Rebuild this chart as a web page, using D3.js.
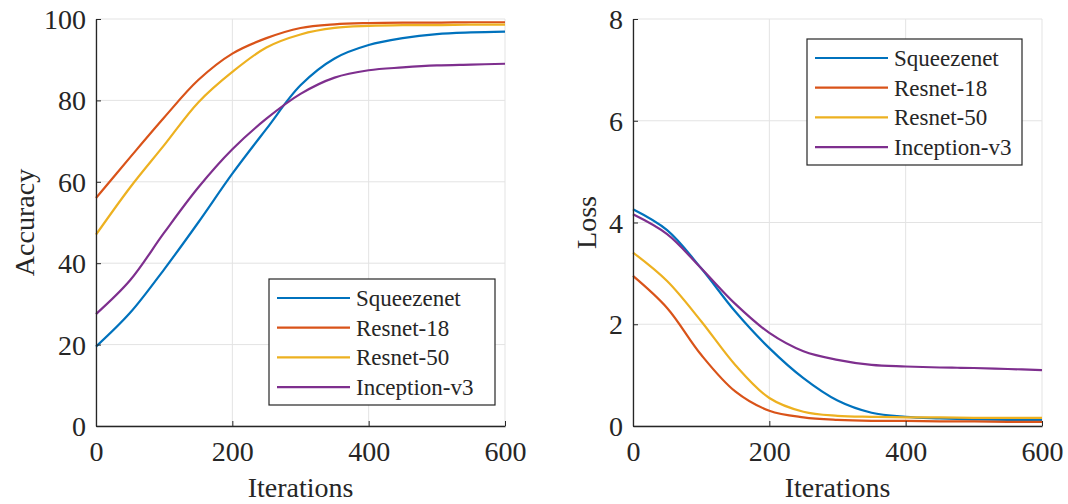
<!DOCTYPE html>
<html>
<head>
<meta charset="utf-8">
<script src="https://cdn.jsdelivr.net/npm/d3@7"></script>
<style>
  body { margin: 0; background: #fff; }
  svg text { font-family: "Liberation Serif", "Times New Roman", serif; fill: #262626; }
</style>
</head>
<body>
<svg id="canvas" width="1068" height="504"></svg>
<script>
// iterations sampled every 50
const iterations = [0, 50, 100, 150, 200, 250, 300, 350, 400, 450, 500, 550, 600];
const models = ['Squeezenet', 'Resnet-18', 'Resnet-50', 'Inception-v3'];
const colors = ['#0072BD', '#D95319', '#EDB120', '#7E2F8E'];

// accuracy (%)
const accSqueezenet = [19.5, 27.8, 38.5, 50, 62, 73, 83.7, 90.3, 93.6, 95.3, 96.3, 96.7, 96.9];
const accResnet18   = [56, 66, 75.8, 85, 91.5, 95.3, 97.8, 98.7, 99, 99.1, 99.1, 99.2, 99.2];
const accResnet50   = [47, 58.6, 69, 79.5, 87, 93, 96.2, 97.8, 98.3, 98.5, 98.5, 98.6, 98.6];
const accInception  = [27.5, 35.8, 47.5, 58.6, 68, 75.5, 81.6, 85.6, 87.4, 88.1, 88.6, 88.8, 89];

// loss
const lossSqueezenet = [4.26, 3.85, 3.1, 2.25, 1.53, 0.94, 0.5, 0.26, 0.18, 0.15, 0.13, 0.12, 0.12];
const lossResnet18   = [2.95, 2.32, 1.4, 0.68, 0.3, 0.17, 0.12, 0.1, 0.1, 0.09, 0.09, 0.08, 0.08];
const lossResnet50   = [3.41, 2.85, 2.06, 1.2, 0.55, 0.28, 0.2, 0.18, 0.17, 0.17, 0.16, 0.16, 0.16];
const lossInception  = [4.16, 3.77, 3.1, 2.4, 1.83, 1.47, 1.3, 1.2, 1.17, 1.15, 1.14, 1.12, 1.1];

const xTicks = [0, 200, 400, 600];
const accTicks = [0, 20, 40, 60, 80, 100];
const lossTicks = [0, 2, 4, 6, 8];

let canvas = d3.select('#canvas');

const drawPanel = (opts) => {
  let x = d3.scaleLinear().domain([0, 600]).range([opts.left, opts.right]);
  let y = d3.scaleLinear().domain(opts.yDomain).range([opts.bottom, opts.top]);
  let g = canvas.append('g');

  // grid
  g.selectAll('.gx').data(xTicks).enter().append('line')
    .attr('x1', d => x(d)).attr('x2', d => x(d))
    .attr('y1', opts.top).attr('y2', opts.bottom)
    .attr('stroke', '#e3e3e3').attr('stroke-width', 1);
  g.selectAll('.gy').data(opts.yTicks).enter().append('line')
    .attr('x1', opts.left).attr('x2', opts.right)
    .attr('y1', d => y(d)).attr('y2', d => y(d))
    .attr('stroke', '#e3e3e3').attr('stroke-width', 1);

  // series
  let line = d3.line()
    .x((d, i) => x(iterations[i]))
    .y(d => y(d))
    .curve(d3.curveCatmullRom.alpha(0.5));
  opts.series.forEach((s, i) => {
    g.append('path')
      .attr('d', line(s))
      .attr('fill', 'none')
      .attr('stroke', colors[i])
      .attr('stroke-width', 2.2);
  });

  // axes (ticks pointing inward)
  let xAxis = d3.axisBottom(x).tickValues(xTicks).tickSizeInner(-5).tickSizeOuter(0).tickPadding(15);
  let yAxis = d3.axisLeft(y).tickValues(opts.yTicks).tickSizeInner(-5).tickSizeOuter(0).tickPadding(10);
  let gx = g.append('g').attr('transform', `translate(0, ${opts.bottom})`).call(xAxis);
  let gy = g.append('g').attr('transform', `translate(${opts.left}, 0)`).call(yAxis);
  [gx, gy].forEach(a => {
    a.attr('font-family', null);
    a.select('.domain').attr('stroke', '#262626').attr('stroke-width', 1.3);
    a.selectAll('.tick line').attr('stroke', '#262626');
    a.selectAll('.tick text').style('font-size', '28px').attr('fill', '#262626');
  });
  gx.selectAll('.tick text').attr('dy', '0.71em');
  gy.selectAll('.tick text').attr('dy', '0.34em');

  // axis labels
  g.append('text')
    .attr('x', (opts.left + opts.right) / 2).attr('y', 497)
    .attr('text-anchor', 'middle').style('font-size', '28px')
    .text('Iterations');
  g.append('text')
    .attr('transform', `translate(${opts.yLabelX}, ${(opts.top + opts.bottom) / 2}) rotate(-90)`)
    .attr('text-anchor', 'middle').style('font-size', '28px')
    .text(opts.yLabel);

  // legend
  let lg = g.append('g').attr('transform', `translate(${opts.legend[0]}, ${opts.legend[1]})`);
  lg.append('rect')
    .attr('width', opts.legend[2]).attr('height', 126)
    .attr('fill', '#fff').attr('stroke', '#262626').attr('stroke-width', 1.2);
  models.forEach((m, i) => {
    let ly = 19 + i * 29.7;
    lg.append('line')
      .attr('x1', 8).attr('x2', 81).attr('y1', ly).attr('y2', ly)
      .attr('stroke', colors[i]).attr('stroke-width', 2.2);
    lg.append('text')
      .attr('x', 87).attr('y', ly).attr('dy', '0.35em')
      .style('font-size', '23px')
      .text(m);
  });
};

drawPanel({
  left: 96, right: 505, top: 19, bottom: 426,
  yDomain: [0, 100], yTicks: accTicks,
  series: [accSqueezenet, accResnet18, accResnet50, accInception],
  yLabel: 'Accuracy', yLabelX: 34,
  legend: [269, 279, 226]
});

drawPanel({
  left: 633, right: 1042, top: 19, bottom: 426,
  yDomain: [0, 8], yTicks: lossTicks,
  series: [lossSqueezenet, lossResnet18, lossResnet50, lossInception],
  yLabel: 'Loss', yLabelX: 596,
  legend: [807, 39, 215]
});
</script>
</body>
</html>
